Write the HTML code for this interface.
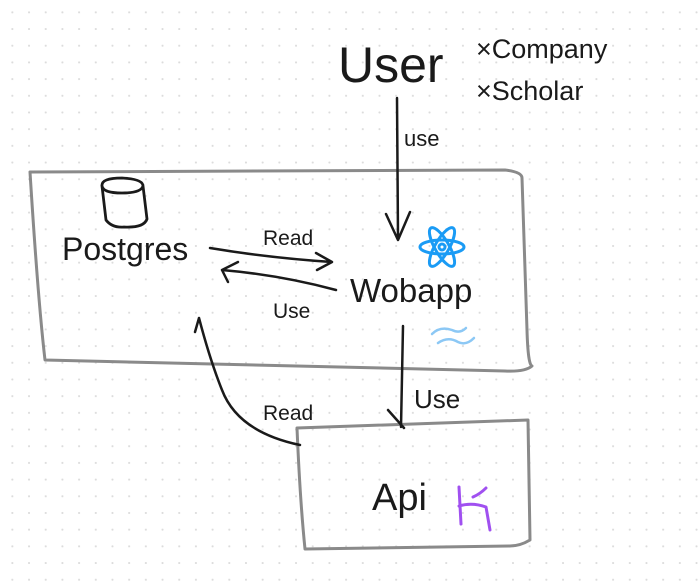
<!DOCTYPE html>
<html><head><style>
html,body{margin:0;padding:0}
body{width:698px;height:583px;background:#fff;background-image:radial-gradient(circle,#dcdcdc 0.9px,transparent 1.2px);background-size:16.7px 16.7px;background-position:4px 4px;overflow:hidden}
text{font-family:"Liberation Sans",sans-serif;fill:#1a1a1a}
</style></head><body>
<svg width="698" height="583" viewBox="0 0 698 583" xmlns="http://www.w3.org/2000/svg" fill="none" stroke-linecap="round" stroke-linejoin="round">
<!-- big box -->
<path d="M30 172 L505 170 Q522 172 522 178 L527 330 Q528 365 532 366 Q525 372 505 371 L45 360 Q38 300 30 172" stroke="#8a8a8a" stroke-width="3"/>
<!-- api box -->
<path d="M297 428 L528 420 L530 540 Q520 546 510 546 L305 549 Q300 500 297 428" stroke="#8a8a8a" stroke-width="3"/>
<!-- cylinder -->
<path d="M102 186 Q101 178 122 178 Q143 179 143 186 Q141 193 122 193 Q103 193 102 186 Z M102 186 L106 220 Q112 228 124 227 Q144 228 147 219 L143 186" stroke="#1a1a1a" stroke-width="2.8"/>
<!-- arrows -->
<path d="M397 98 L398 237 M386 214 L398 240 L410 212" stroke="#1a1a1a" stroke-width="2.5"/>
<path d="M210 248 Q270 258 332 262 M316 253 L332 262 L317 270" stroke="#1a1a1a" stroke-width="2.5"/>
<path d="M336 290 Q280 275 222 270 M238 262 L222 270 L228 282" stroke="#1a1a1a" stroke-width="2.5"/>
<path d="M403 326 L401 427 M388 410 L404 428" stroke="#1a1a1a" stroke-width="2.5"/>
<path d="M300 445 Q238 432 222 390 Q210 360 199 318 M199 318 L195 332" stroke="#1a1a1a" stroke-width="2.5"/>
<!-- react icon -->
<g stroke="#1a9bf5" stroke-width="3" transform="translate(442 247)">
<ellipse rx="22" ry="7"/><ellipse rx="22" ry="7" transform="rotate(60)"/><ellipse rx="22" ry="7" transform="rotate(-60)"/><circle r="3"/>
</g>
<!-- tailwind waves -->
<path d="M432 334 Q440 326 452 330 Q460 334 466 328 M438 343 Q448 336 458 342 Q466 346 474 338" stroke="#8cc8f5" stroke-width="2.5"/>
<!-- K icon -->
<path d="M459 487 L461 524 M459 506 Q472 502 486 507 L490 530 M473 497 Q480 494 486 488" stroke="#a050f0" stroke-width="3"/>
<!-- texts -->
<text x="338" y="82" font-size="50">User</text>
<text x="476" y="58" font-size="27">×Company</text>
<text x="476" y="100" font-size="27">×Scholar</text>
<text x="404" y="146" font-size="22">use</text>
<text x="62" y="260" font-size="32">Postgres</text>
<text x="263" y="245" font-size="21">Read</text>
<text x="273" y="318" font-size="21">Use</text>
<text x="350" y="302" font-size="33">Wobapp</text>
<text x="414" y="408" font-size="26">Use</text>
<text x="263" y="420" font-size="21">Read</text>
<text x="372" y="510" font-size="38">Api</text>
</svg>
</body></html>
